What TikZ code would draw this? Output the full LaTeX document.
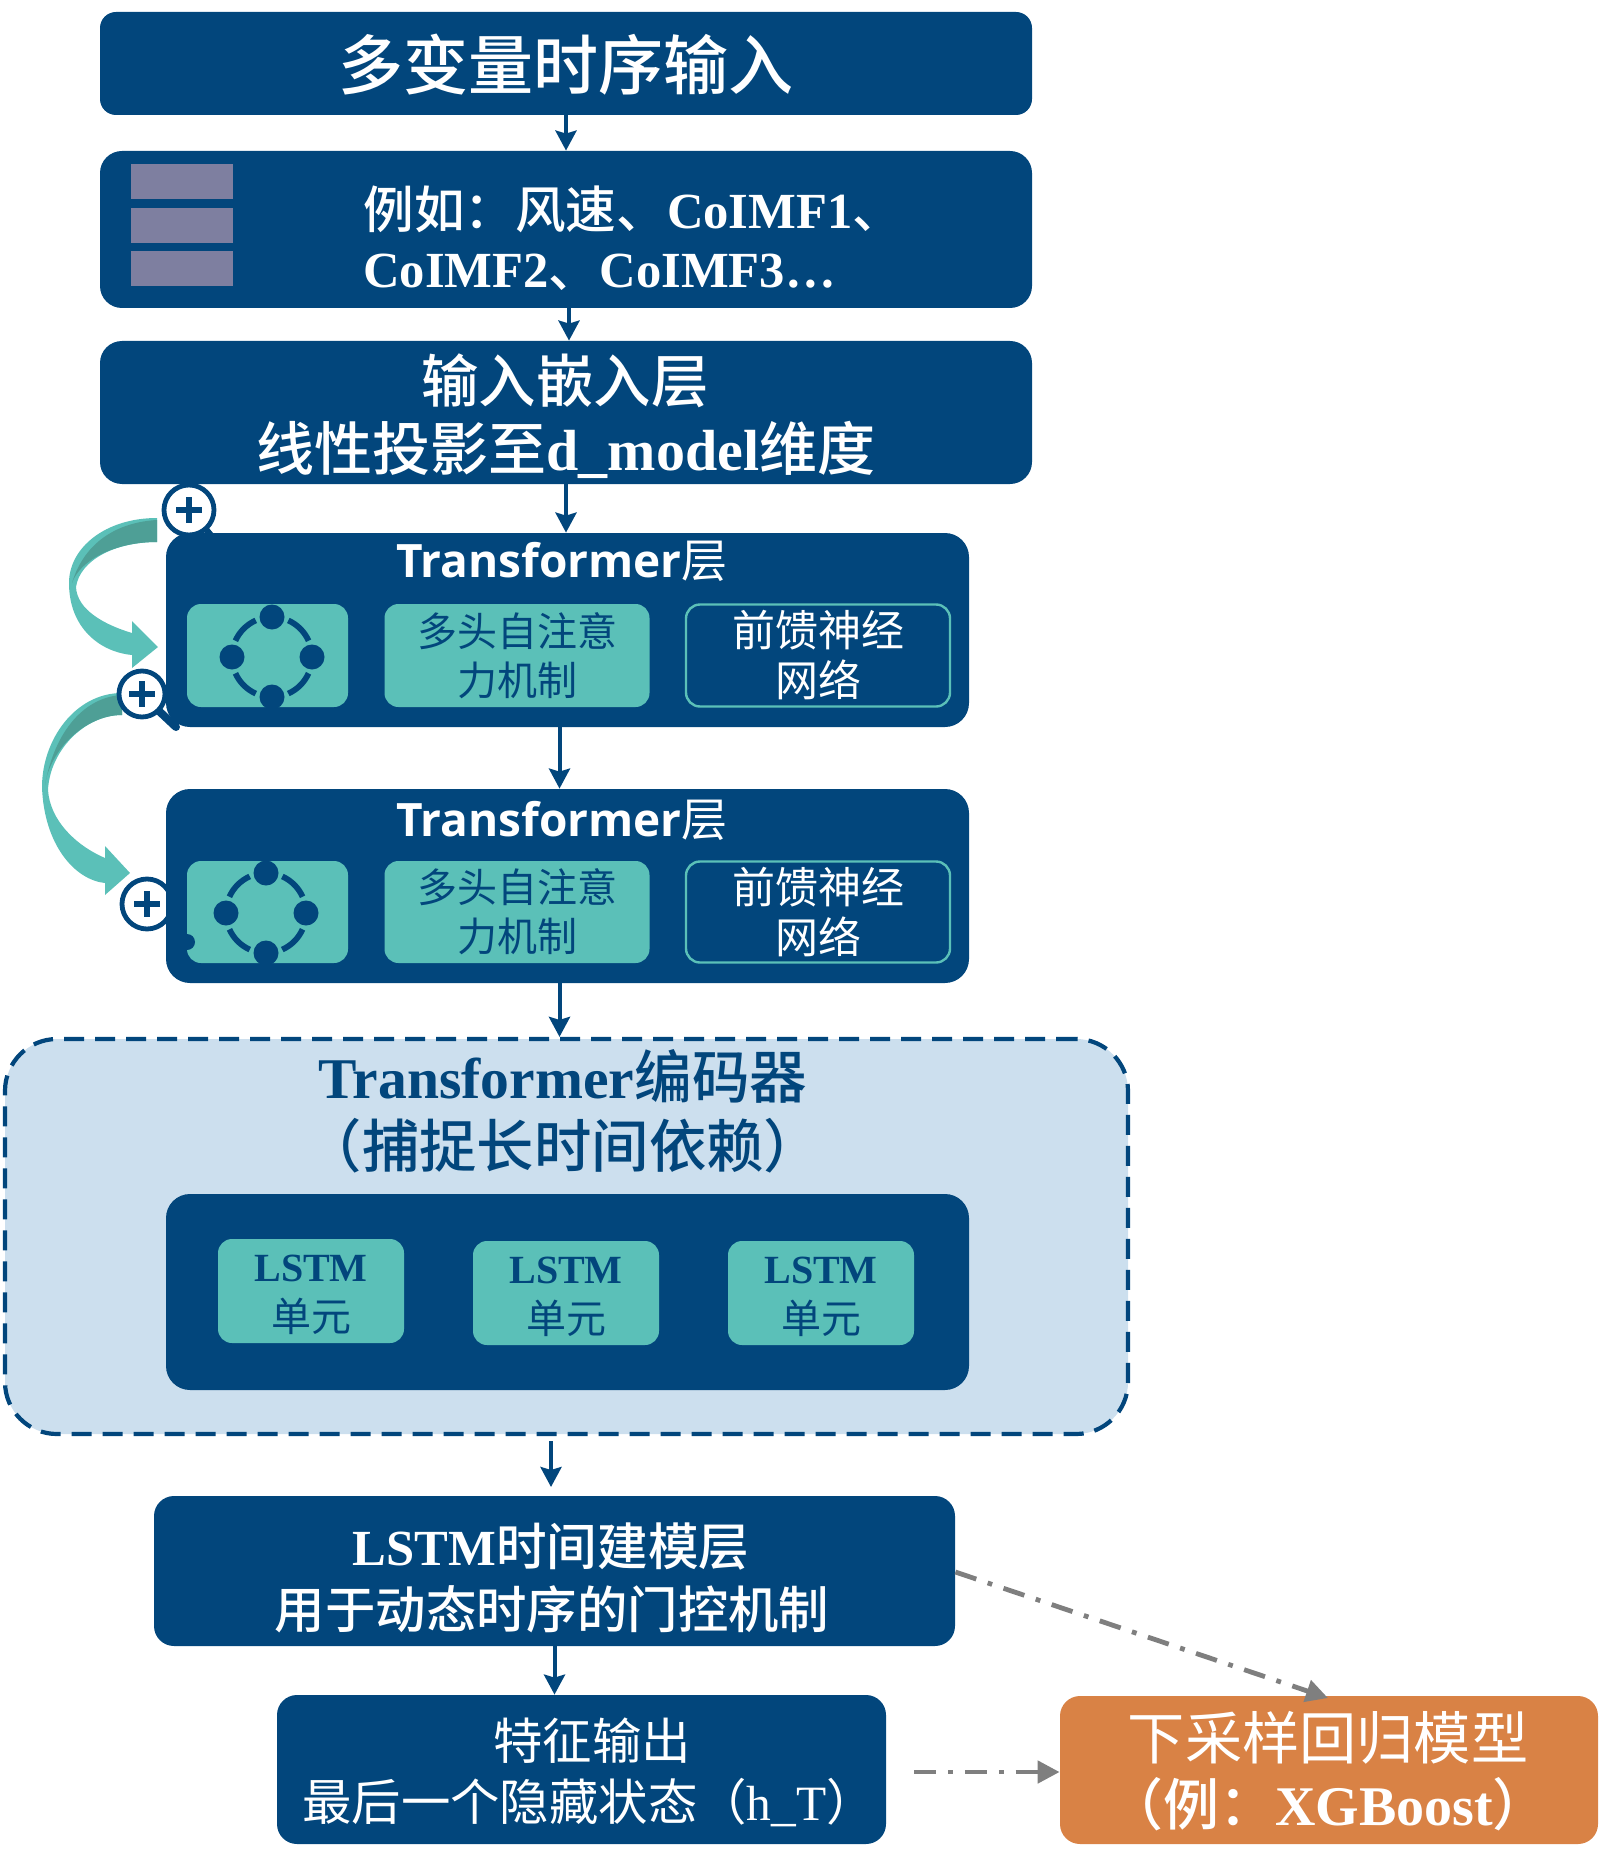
\documentclass[tikz,border=0pt]{standalone}
\usepackage{fontspec}
\setmainfont{Liberation Serif}
\newfontfamily\cjkf{Noto Sans CJK SC}
\newfontfamily\cjkm{Noto Sans CJK SC Medium}
\newfontfamily\sansf{Open Sans}
\newcommand{\C}[1]{{\cjkm\mdseries #1}}
\newcommand{\R}[1]{{\cjkf\mdseries #1}}
\newcommand{\fsz}[2]{\fontsize{#1pt}{#2pt}\selectfont}
\definecolor{navy}{HTML}{02467C}
\definecolor{teal2}{HTML}{5BC0B8}
\definecolor{tealdark}{HTML}{4E9F96}
\definecolor{orange2}{HTML}{D98245}
\definecolor{pale}{HTML}{CCDFEE}
\definecolor{stripe}{HTML}{7E7FA0}
\definecolor{gray2}{HTML}{7F7F7F}
\usetikzlibrary{arrows.meta,calc}
\tikzset{
  navybox/.style={draw=none,fill=navy,rounded corners=#1,inner sep=0pt,text=white},
  navybox/.default=10pt,
  tealbox/.style={fill=teal2,rounded corners=7pt,inner sep=0pt,text=navy,align=center},
  linebox/.style={draw=teal2,line width=1.2pt,fill=navy,rounded corners=7pt,inner sep=0pt,text=white,align=center},
  lbl/.style={inner sep=0pt,align=center,text=white},
  flow/.style={draw=navy,line width=2pt,-{Stealth[length=10pt,width=10.5pt,inset=1.5pt]}},
  dashflow/.style={draw=gray2,line width=2.4pt,dash pattern=on 11pt off 6pt on 2.4pt off 6pt,-{Stealth[length=11pt,width=11pt,inset=0pt]}},
  stripebar/.style={fill=stripe,draw=none,inner sep=0pt,minimum width=51pt,minimum height=17.5pt},
  plusring/.style={circle,draw=navy,fill=white,line width=2.4pt,inner sep=0pt},
  plusmark/.style={draw=navy,line width=2.8pt},
  ringarc/.style={draw=navy,line width=2.9pt},
  unitbox/.style={fill=teal2,rounded corners=7pt,inner sep=0pt,minimum width=93pt,minimum height=52pt},
  unittext/.style={lbl,text=navy,font=\bfseries\fsz{20}{25}},
}
\newcommand{\ringicon}[2]{%
  \foreach \a in {0,90,180,270}{
    \draw[ringarc] ([shift={(#1,#2)}]\a+24:40) arc (\a+24:\a+66:40);
    \fill[navy] ([shift={(#1,#2)}]\a:40) circle[radius=12.5];
  }}
\newcommand{\plusicon}[4]{% name,x,y,r
  \node[plusring,minimum size=#4pt] (#1) at (#2,#3) {};
  \draw[plusmark] ($(#1)+(-13,0)$) -- ($(#1)+(13,0)$);
  \draw[plusmark] ($(#1)+(0,-13)$) -- ($(#1)+(0,13)$);}
\begin{document}
\begin{tikzpicture}[x=0.5pt,y=-0.5pt]
\useasboundingbox (0,0) rectangle (1600,1856);

% swoosh arrows
\fill[teal2] (157,518) .. controls (105,518) and (69,548) .. (69,583) .. controls (69,628) and (100,652) .. (132,655) -- (132,668) -- (158,647) -- (132,621) -- (132,633) .. controls (105,625) and (77,610) .. (76,587) .. controls (80,560) and (115,542) .. (157,542) -- cycle;
\fill[tealdark] (157,520) .. controls (120,522) and (85,540) .. (72,583) .. controls (80,560) and (115,542) .. (157,542) -- cycle;
\fill[teal2] (122,693) .. controls (75,693) and (42,740) .. (42,787) .. controls (44,845) and (75,880) .. (105,883) -- (105,895) -- (130,873) -- (105,846) -- (105,858) .. controls (75,845) and (50,820) .. (48,790) .. controls (50,750) and (85,715) .. (122,715) -- cycle;
\fill[tealdark] (122,695) .. controls (85,697) and (55,730) .. (45,785) .. controls (50,750) and (85,715) .. (122,715) -- cycle;

% plus icons under boxes
\draw[navy,line width=3pt] (205,528) -- (215,540);
\plusicon{plusa}{189}{510}{25}
\plusicon{plusc}{147}{904}{25}

% main boxes
\node[navybox=8pt,minimum width=466pt,minimum height=51.5pt] (b1) at (566,63.5) {};
\node[navybox=11pt,minimum width=466pt,minimum height=78.5pt] (b2) at (566,229.5) {};
\node[navybox=11pt,minimum width=466pt,minimum height=71.5pt] (b3) at (566,412.5) {};
\node[navybox=12pt,minimum width=401.5pt,minimum height=97pt] (t1) at (567.5,630) {};
\node[navybox=12pt,minimum width=401.5pt,minimum height=97pt] (t2) at (567.5,886) {};
\node[draw=navy,fill=pale,line width=2.1pt,dash pattern=on 10pt off 5.5pt,rounded corners=26pt,minimum width=561.5pt,minimum height=197.5pt,inner sep=0pt] (enc) at (566.5,1236.5) {};
\node[navybox=12pt,minimum width=401.5pt,minimum height=98pt] (lc) at (567.5,1292) {};
\node[navybox=10pt,minimum width=400.5pt,minimum height=75pt] (lm) at (554.5,1571) {};
\node[navybox=10pt,minimum width=304.5pt,minimum height=74.5pt] (ou) at (581.5,1769.5) {};
\node[fill=orange2,rounded corners=10pt,inner sep=0pt,minimum width=269pt,minimum height=74pt] (dr) at (1329,1770) {};

% stripes
\node[stripebar] (s1) at (182,181.5) {};
\node[stripebar] (s2) at (182,226) {};
\node[stripebar] (s3) at (182,269) {};

% texts
\node[lbl,font=\cjkm\fsz{32.5}{36}] (tb1) at (566,65) {多变量时序输入};
\node[lbl,font=\bfseries\fsz{25.3}{30},anchor=west] (tb2a) at (363,209) {\C{例如：风速、}CoIMF1\C{、}};
\node[lbl,font=\bfseries\fsz{25.3}{30},anchor=west] (tb2b) at (363,272) {CoIMF2\C{、}CoIMF3…};
\node[lbl,font=\cjkm\fsz{28.7}{34}] (tb3a) at (565,381) {输入嵌入层};
\node[lbl,font=\bfseries\fsz{29}{34}] (tb3b) at (566,450) {\C{线性投影至}d\_model\C{维度}};

% transformer blocks
\node[lbl,font=\sansf\bfseries\fsz{23}{28}] (tt1) at (562,561) {Transformer\R{层}};
\node[tealbox,minimum width=80.5pt,minimum height=51.5pt] (i1) at (267.5,655.5) {};
\node[tealbox,font=\cjkf\fsz{20}{24.5},minimum width=132.5pt,minimum height=51.5pt] (m1) at (517,655.5) {多头自注意\\力机制};
\node[linebox,font=\cjkf\fsz{21.5}{25},minimum width=132pt,minimum height=51pt] (f1) at (818,655.5) {前馈神经\\网络};
\ringicon{272}{657}

\node[lbl,font=\sansf\bfseries\fsz{23}{28}] (tt2) at (562,820) {Transformer\R{层}};
\node[tealbox,minimum width=80.5pt,minimum height=51pt] (i2) at (267.5,912) {};
\node[tealbox,font=\cjkf\fsz{20}{24.5},minimum width=132.5pt,minimum height=51pt] (m2) at (517,912) {多头自注意\\力机制};
\node[linebox,font=\cjkf\fsz{21.5}{25},minimum width=132pt,minimum height=50.5pt] (f2) at (818,912) {前馈神经\\网络};
\ringicon{266}{913}
\fill[navy] (187,942) circle[radius=8];

% encoder
\node[lbl,text=navy,font=\bfseries\fsz{28.8}{34}] (te) at (563,1076) {Transformer\C{编码器}};
\node[lbl,text=navy,font=\cjkm\fsz{28.7}{34}] (tf) at (563,1146) {（捕捉长时间依赖）};
\node[unitbox] (u1) at (311,1291) {};
\node[unitbox] (u2) at (566,1293) {};
\node[unitbox] (u3) at (821,1293) {};
\node[unittext] (ut1) at (311,1294.5) {LSTM\\\R{单元}};
\node[unittext] (ut2) at (566,1296.5) {LSTM\\\R{单元}};
\node[unittext] (ut3) at (821,1296.5) {LSTM\\\R{单元}};

% bottom
\node[lbl,font=\bfseries\fsz{25.3}{30}] (tl1) at (551,1547) {LSTM\C{时间建模层}};
\node[lbl,font=\cjkm\fsz{25.2}{30}] (tl2) at (552,1609) {用于动态时序的门控机制};
\node[lbl,font=\cjkf\fsz{24.7}{30}] (to1) at (592,1741) {特征输出};
\node[lbl,font=\fsz{24.7}{30}] (to2) at (589,1803) {\R{最后一个隐藏状态（}h\_T\R{）}};
\node[lbl,font=\cjkf\fsz{28.6}{34}] (td1) at (1328,1738) {下采样回归模型};
\node[lbl,font=\bfseries\fsz{28}{34}] (td2) at (1328,1804) {\C{（例：}XGBoost\C{）}};

% connectors
\draw[flow] (b1.south) -- (b2.north);
\draw[flow] ([xshift=1.5pt]b2.south) -- ([xshift=1.5pt]b3.north);
\draw[flow] (b3.south) -- (b3.south |- t1.north);
\draw[flow] ([xshift=-4pt]t1.south) -- ([xshift=-4pt]t2.north);
\draw[flow] ([xshift=-4pt]t2.south) -- ([xshift=-4pt]t2.south |- enc.north);
\coordinate (encout) at (551,1441);
\draw[flow] (encout) -- (551,1487);
\draw[flow] (lm.south) -- (lm.south |- ou.north);
\coordinate (dtip) at (1328,1698);
\draw[dashflow] (lm.east) ++(0,1) -- (dtip);
\coordinate (dstart) at (914,1772);
\draw[dashflow] (dstart) -- (dstart -| dr.west);

% magnifier on top of swoosh
\draw[navy,line width=4pt,line cap=round] (160,712) -- (176,727);
\plusicon{plusb}{142}{694}{23}
\end{tikzpicture}
\end{document}
